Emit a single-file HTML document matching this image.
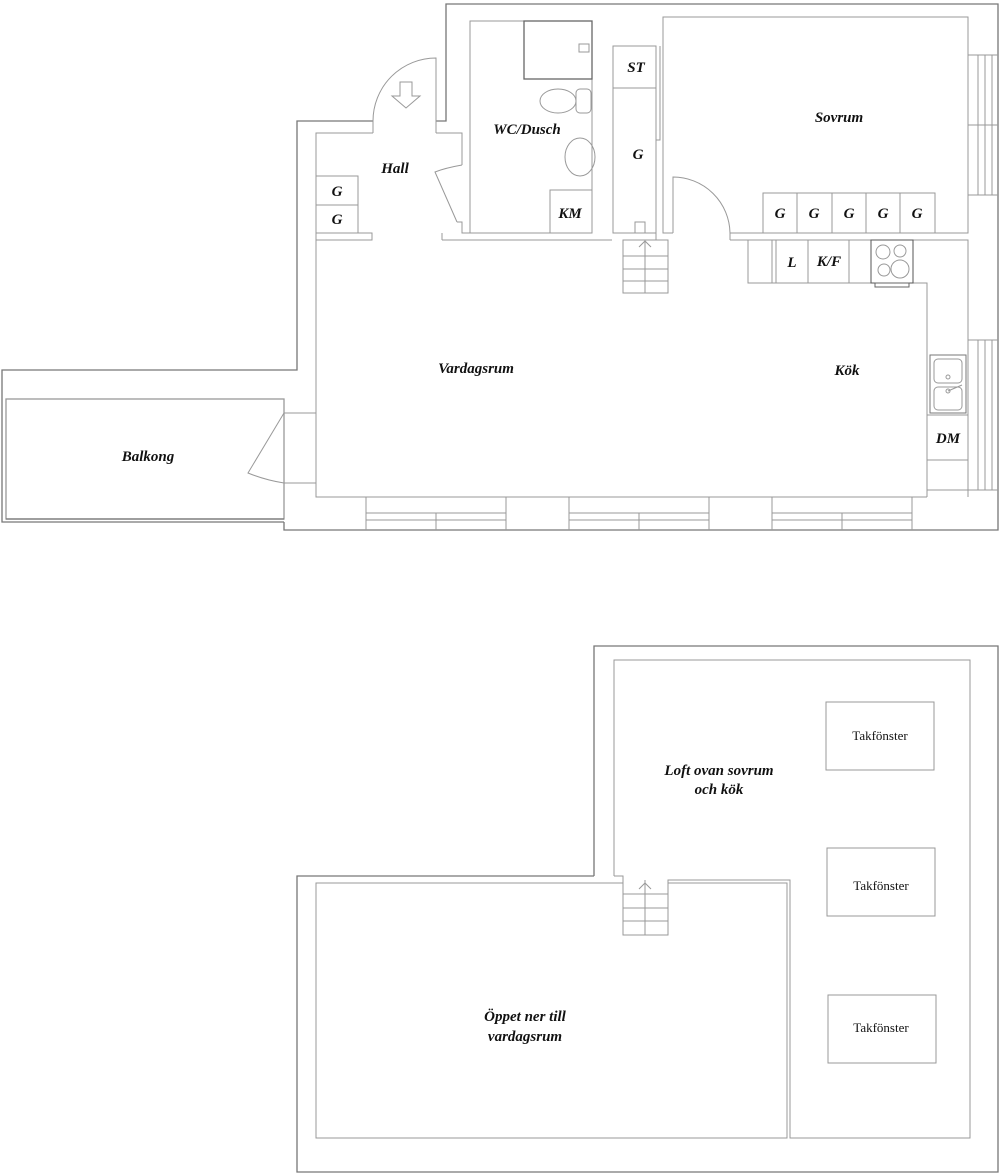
<!DOCTYPE html>
<html><head><meta charset="utf-8"><style>
html,body{margin:0;padding:0;background:#fff}
svg{display:block}
text{font-family:"Liberation Serif",serif;font-style:italic;font-weight:bold;fill:#111;text-anchor:middle}
.t{font-style:normal;font-weight:normal;font-size:13px}
</style></head><body>
<svg width="1000" height="1176" viewBox="0 0 1000 1176" xmlns="http://www.w3.org/2000/svg">
<g fill="none" stroke="#777" stroke-width="1.3">
<!-- upper outer -->
<polyline points="373,121 297,121 297,370 2,370 2,522 284,522"/>
<polyline points="436,121 446,121 446,4 998,4 998,530 284,530 284,522"/>
<!-- balcony inner -->
<rect x="6" y="399" width="278" height="120" stroke="#999"/>
<path d="M6,519 H284"/>
</g>
<g fill="none" stroke="#999" stroke-width="1">
<!-- hall -->
<polyline points="373,133 316,133 316,497 927,497"/>
<polyline points="436,133 462,133 462,165"/>
<polyline points="457,222 462,222 462,233 470,233"/>
<path d="M462,165 Q445,168 435,172 L457,222"/>
<path d="M373,133 V121 M436,133 V121"/>
<path d="M373,121 A63,63 0 0 1 436,58 V121"/>
<polygon points="400,82 412,82 412,96 420,96 406,108 392,96 400,96" fill="#fff"/>
<!-- wall line y=240 -->
<polyline points="316,240 372,240 372,233 316,233"/>
<polyline points="442,240 612,240"/>
<path d="M442,233 V240 M470,233 H592"/>
<!-- WC -->
<rect x="470" y="21" width="122" height="212"/>
<rect x="524" y="21" width="68" height="58" stroke="#666" stroke-width="1.3"/>
<rect x="579" y="44" width="10" height="8"/>
<ellipse cx="558" cy="101" rx="18" ry="12"/>
<rect x="576" y="89" width="15" height="24" rx="4"/>
<ellipse cx="580" cy="157" rx="15" ry="19"/>
<rect x="550" y="190" width="42" height="43"/>
<!-- ST/G closet -->
<rect x="613" y="46" width="43" height="187"/>
<path d="M613,88 H656 M660,46 V140 H656 M656,140 V233"/>
<path d="M635,233 V222 H645 V233 H656 V240 H668"/>
<!-- stairs upper -->
<rect x="623" y="240" width="45" height="53"/>
<path d="M645,240 V293 M623,256 H668 M623,269 H668 M623,281 H668"/>
<path d="M639,247 L645,241 L651,247"/>
<!-- bedroom -->
<polyline points="663,140 663,17 968,17 968,233 730,233 730,240"/>
<path d="M673,233 V177 A57,57 0 0 1 730,233"/>
<path d="M663,140 V233 H673"/>
<rect x="763" y="193" width="172" height="40"/>
<path d="M797,193 V233 M832,193 V233 M866,193 V233 M900,193 V233"/>
<!-- right windows -->
<path d="M968,55 H998 M968,195 H998 M978,55 V195 M985,55 V195 M992,55 V195 M968,125 H998"/>
<path d="M968,340 H998 M968,490 H998 M978,340 V490 M985,340 V490 M992,340 V490"/>
<!-- kitchen -->
<polyline points="730,240 968,240 968,497"/>
<polyline points="748,240 748,283 927,283 927,497"/>
<path d="M772,240 V283 M776,240 V283 M808,240 V283 M849,240 V283"/>
<rect x="871" y="240" width="42" height="43" stroke="#555"/>
<circle cx="883" cy="252" r="7"/><circle cx="900" cy="251" r="6"/>
<circle cx="884" cy="270" r="6"/><circle cx="900" cy="269" r="9"/>
<rect x="875" y="283" width="34" height="4" stroke="#666"/>
<rect x="930" y="355" width="36" height="58" stroke="#777"/>
<rect x="934" y="359" width="28" height="24" rx="4"/>
<rect x="934" y="387" width="28" height="23" rx="4"/>
<circle cx="948" cy="377" r="2"/><circle cx="948" cy="391" r="2"/>
<path d="M948,391 L962,385"/>
<path d="M927,415 H968 M927,460 H968 M927,490 H968"/>
<!-- bottom windows -->
<path d="M366,497 V530 M506,497 V530 M366,513 H506 M366,520 H506 M436,513 V530"/>
<path d="M569,497 V530 M709,497 V530 M569,513 H709 M569,520 H709 M639,513 V530"/>
<path d="M772,497 V530 M912,497 V530 M772,513 H912 M772,520 H912 M842,513 V530"/>
<!-- balcony door -->
<path d="M316,413 H284 V483 H316 V497"/>
<path d="M284,413 L248,473 Q265,480 284,483"/>
<!-- Hall G -->
<rect x="316" y="176" width="42" height="57"/>
<path d="M316,205 H358"/>
</g>
<!-- lower floor -->
<g fill="none" stroke="#777" stroke-width="1.3">
<polyline points="594,876 594,646 998,646 998,1172 297,1172 297,876 594,876"/>
</g>
<g fill="none" stroke="#999" stroke-width="1">
<polyline points="614,876 614,660 970,660 970,1138 790,1138 790,880 668,880 668,935 623,935 623,880"/>
<polyline points="623,883 316,883 316,1138 787,1138 787,883 668,883"/>
<path d="M614,876 H623 V880"/>
<path d="M645,880 V935 M623,894 H668 M623,908 H668 M623,921 H668"/>
<path d="M639,889 L645,883 L651,889"/>
<rect x="826" y="702" width="108" height="68"/>
<rect x="827" y="848" width="108" height="68"/>
<rect x="828" y="995" width="108" height="68"/>
</g>
<g font-size="15">
<text x="395" y="173">Hall</text>
<text x="527" y="134">WC/Dusch</text>
<text x="636" y="72">ST</text>
<text x="638" y="159">G</text>
<text x="570" y="218">KM</text>
<text x="839" y="122">Sovrum</text>
<text x="780" y="218">G</text><text x="814" y="218">G</text><text x="849" y="218">G</text><text x="883" y="218">G</text><text x="917" y="218">G</text>
<text x="337" y="196">G</text><text x="337" y="224">G</text>
<text x="792" y="267">L</text>
<text x="829" y="266">K/F</text>
<text x="476" y="373">Vardagsrum</text>
<text x="847" y="375">Kök</text>
<text x="948" y="443">DM</text>
<text x="148" y="461">Balkong</text>
<text x="719" y="775">Loft ovan sovrum</text>
<text x="719" y="794">och kök</text>
<text x="525" y="1021">Öppet ner till</text>
<text x="525" y="1041">vardagsrum</text>
</g>
<text class="t" x="880" y="740">Takfönster</text>
<text class="t" x="881" y="890">Takfönster</text>
<text class="t" x="881" y="1032">Takfönster</text>
</svg>
</body></html>
